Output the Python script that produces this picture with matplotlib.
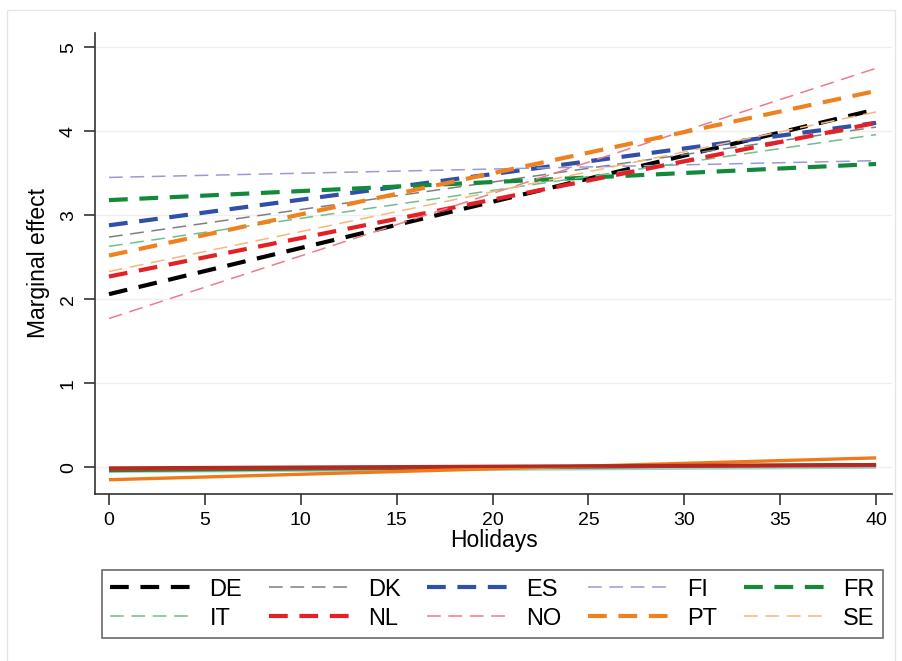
import matplotlib.pyplot as plt
from matplotlib.patches import Rectangle

plt.rcParams['font.family'] = ['Liberation Sans', 'DejaVu Sans']

# holidays range covered by the linear predictions
holidays = [0, 40]

countries = ['DE', 'DK', 'ES', 'FI', 'FR', 'IT', 'NL', 'NO', 'PT', 'SE']
# marginal effect at 0 and at 40 holidays
effect_start = [2.06, 2.74, 2.88, 3.45, 3.18, 2.63, 2.27, 1.77, 2.52, 2.33]
effect_end = [4.26, 4.05, 4.10, 3.65, 3.61, 3.96, 4.10, 4.75, 4.48, 4.23]
colors = ['#000000', '#7f7f7f', '#2f4fa8', '#9a9ad0', '#13893a',
          '#6cc08c', '#e41f26', '#ec7b8c', '#f0811f', '#f7b77a']
thick = [True, False, True, False, True, False, True, False, True, False]

# baseline lines around zero
base_start = [-0.05, -0.04, -0.02, -0.15, -0.01]
base_end = [0.00, 0.03, 0.02, 0.11, 0.03]
base_colors = ['#8fd8d0', '#3a7a2a', '#d8262a', '#f07a1a', '#b02a20']

fig = plt.figure(figsize=(9.02, 6.61), dpi=100)
fig.patches.append(Rectangle((7 / 902, -0.01), 888 / 902, 1 - 10 / 661 + 0.01,
                             transform=fig.transFigure, fill=False,
                             edgecolor='#e6e6e6', linewidth=1))
ax = fig.add_axes([95 / 902, 1 - 494 / 661, 797 / 902, 461 / 661])

for b0, b1, c in zip(base_start, base_end, base_colors):
    ax.plot(holidays, [b0, b1], color=c, lw=2.4, solid_capstyle='butt', zorder=2)

handles = []
for name, y0, y1, c, t in zip(countries, effect_start, effect_end, colors, thick):
    ln, = ax.plot(holidays, [y0, y1], color=c, lw=3.0 if t else 1.1,
                  dashes=(4.5, 2.8) if t else (9, 5), label=name, zorder=3)
    handles.append(ln)

ax.set_xlim(-0.73, 40.83)
ax.set_ylim(-0.32, 5.17)
ax.set_xticks(range(0, 41, 5))
ax.set_yticks(range(0, 6))
ax.grid(axis='y', color='#eeeeee', lw=1)
ax.set_axisbelow(True)
for s in ['top', 'right']:
    ax.spines[s].set_visible(False)
for s in ['left', 'bottom']:
    ax.spines[s].set_color('#333333')
    ax.spines[s].set_linewidth(1.2)
ax.tick_params(length=8, width=1.2, color='#333333', labelsize=14, pad=5)
for lbl in ax.get_yticklabels():
    lbl.set_rotation(90)
    lbl.set_va('center')
ax.set_xlabel('Holidays', fontsize=16.5, labelpad=0)
ax.set_ylabel('Marginal effect', fontsize=16.5, labelpad=7)

# legend fills row by row: reorder for matplotlib's column-first layout
ncol = 5
order = [r * ncol + c for c in range(ncol) for r in range(2)]
leg = fig.legend(handles=[handles[i] for i in order], ncol=ncol, loc='lower left',
                 bbox_to_anchor=(102 / 902, 1 - 638 / 661, 781 / 902, 73 / 661),
                 mode='expand', fontsize=17, handlelength=3.6, handletextpad=0.6,
                 frameon=True, fancybox=False, edgecolor='#444444',
                 borderaxespad=0, labelspacing=0.3, borderpad=0.35)
leg.get_frame().set_linewidth(1.2)

fig.savefig('out.png', dpi=100)
